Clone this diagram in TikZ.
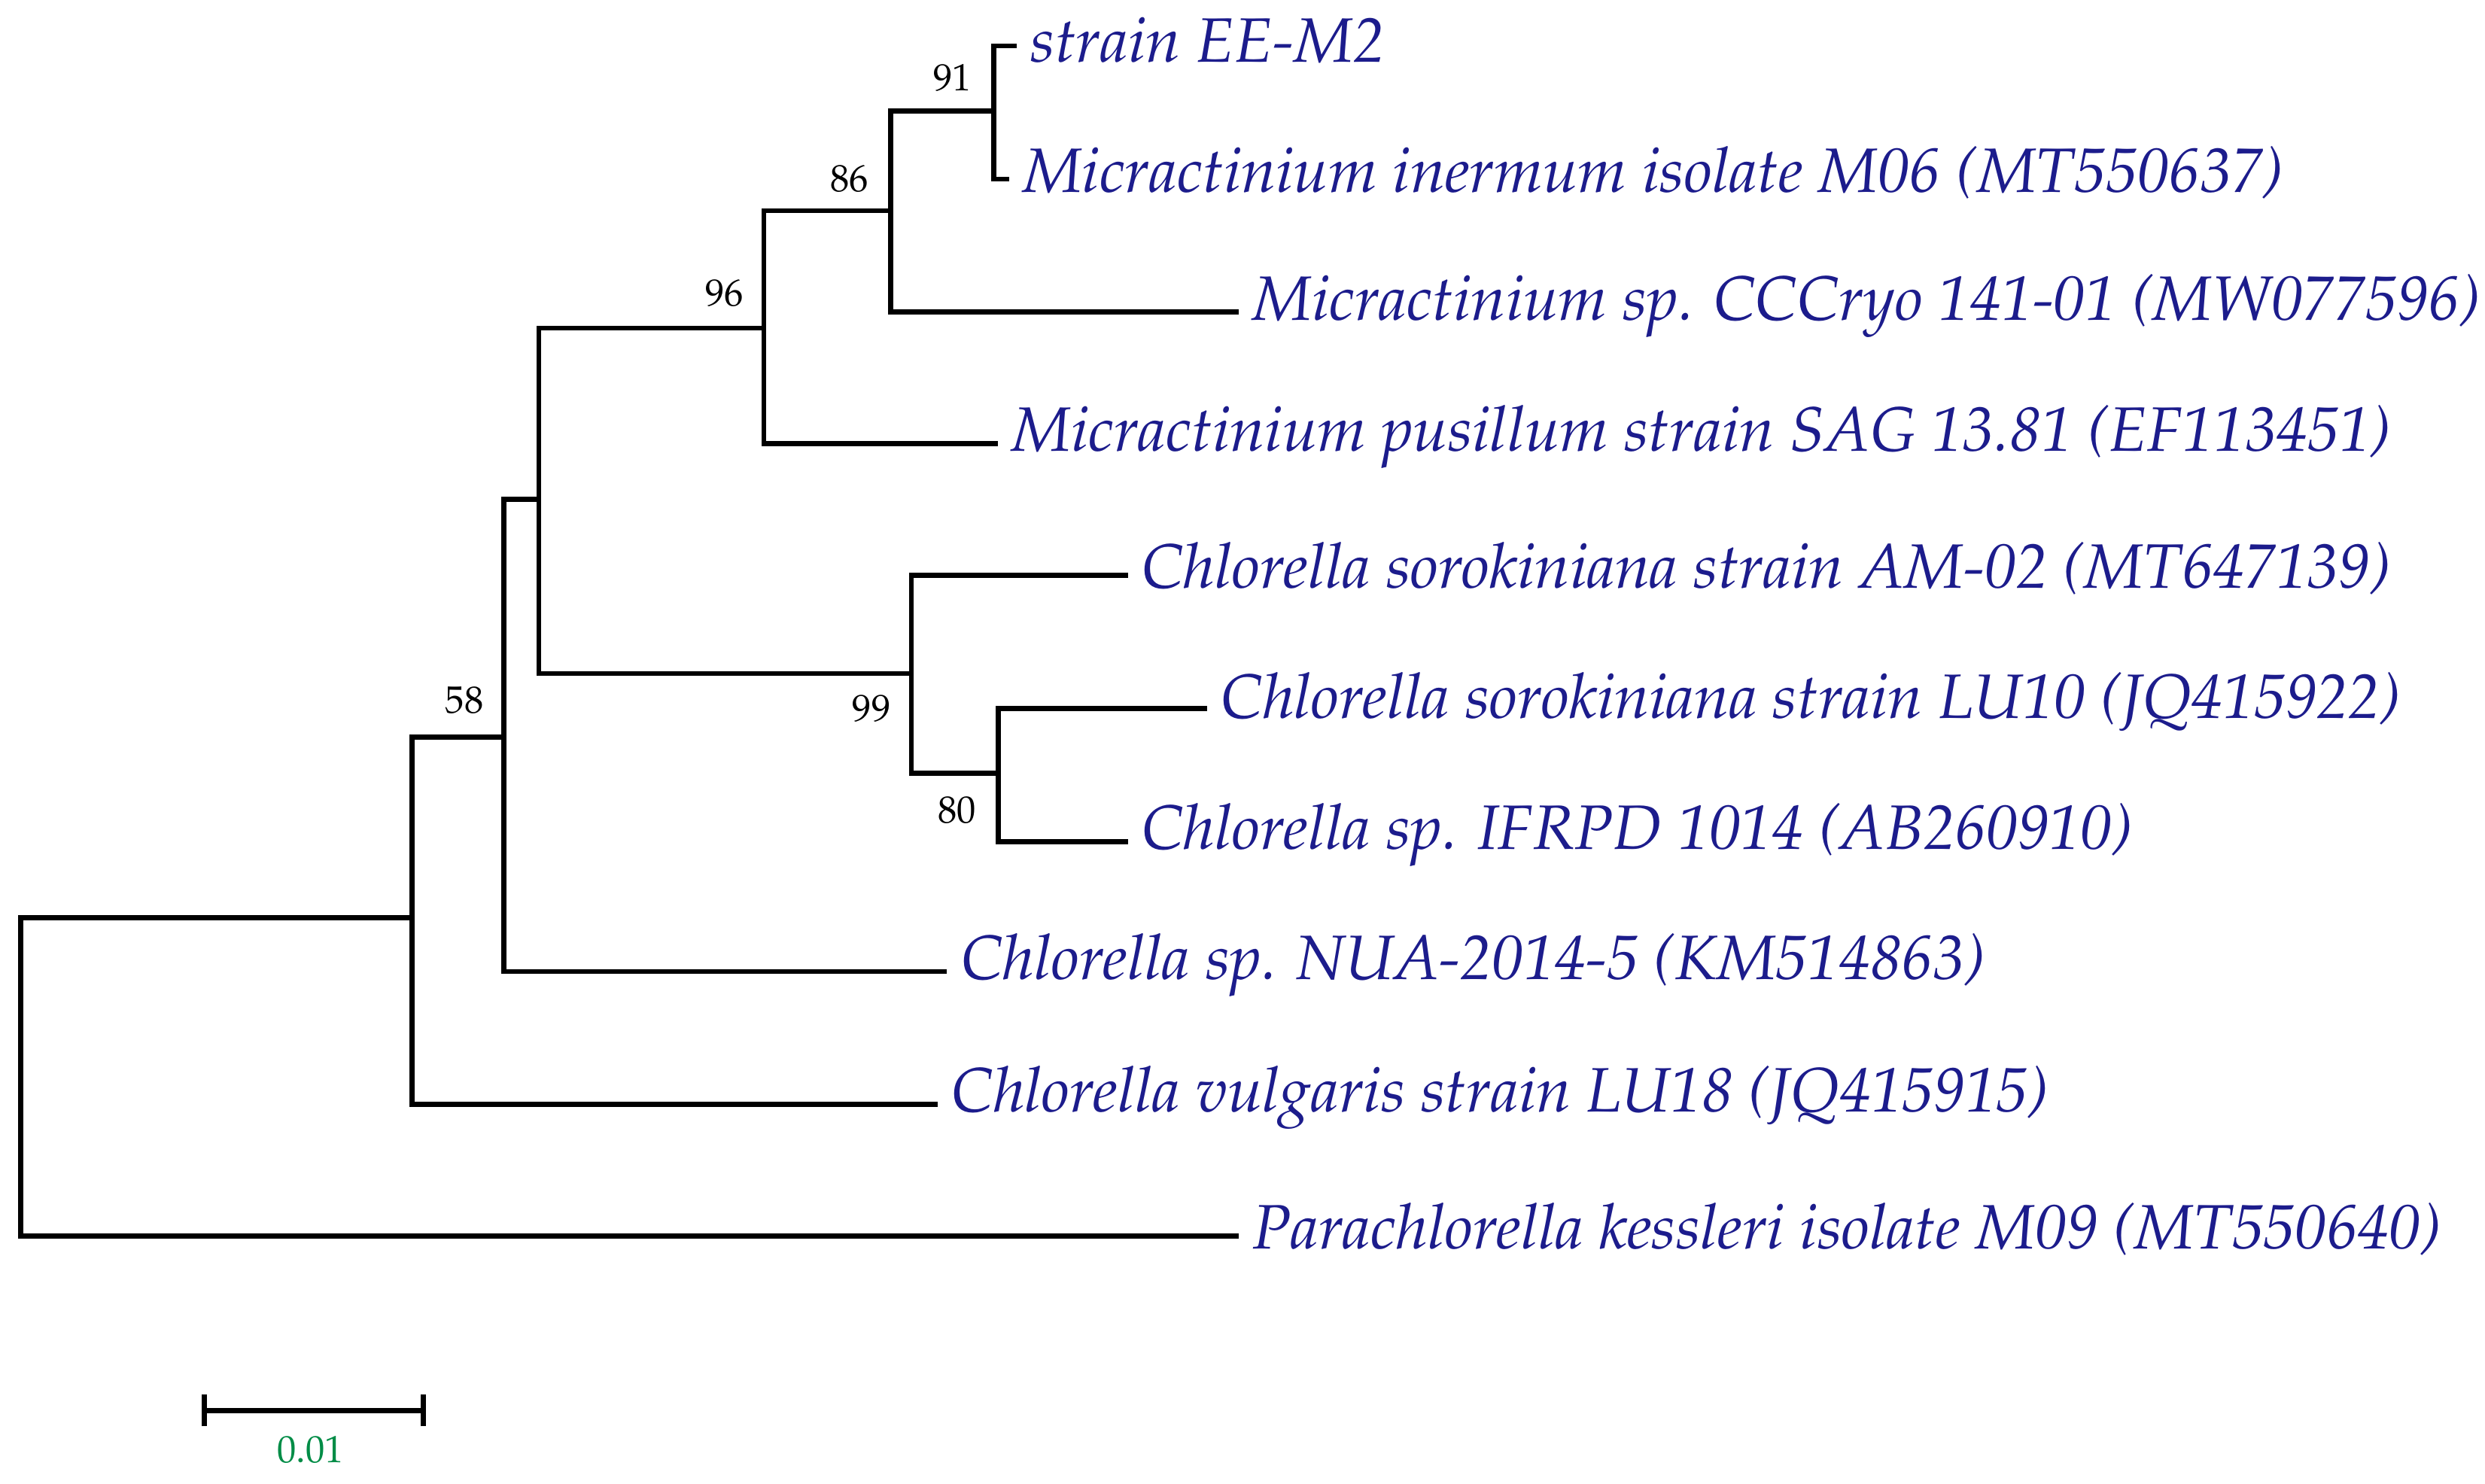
\documentclass[tikz,border=0pt]{standalone}
\usepackage[T1]{fontenc}
\usepackage{mathpazo}
\definecolor{taxblue}{RGB}{28,28,140}
\definecolor{scalegreen}{RGB}{0,140,70}
\begin{document}
\begin{tikzpicture}[x=0.5pt,y=-0.5pt,
  branch/.style={line width=1.6pt,line cap=rect},
  leaf/.style={anchor=west,inner sep=0pt,xshift=5pt,yshift=2pt,text=taxblue,font=\fontsize{19.8}{21}\selectfont\itshape},
  boot/.style={inner sep=0pt,font=\fontsize{12}{13}\selectfont},
  scalelab/.style={inner sep=0pt,text=scalegreen,font=\fontsize{12}{13}\selectfont}]
\useasboundingbox (0,0) rectangle (1568,936);
% internal nodes
\coordinate (n0) at (13,680);
\coordinate (n58) at (260,579);
\coordinate (nA) at (318,465);
\coordinate (nB) at (340,315);
\coordinate (n96) at (482,207);
\coordinate (n86) at (562,133);
\coordinate (n91) at (627,70);
\coordinate (n99) at (575,425);
\coordinate (n80) at (630,488);
% tips
\coordinate (tEE) at (640,29);
\coordinate (tM06) at (635,113);
\coordinate (tCC) at (780,197);
\coordinate (tPus) at (628,280);
\coordinate (tAM) at (710,363);
\coordinate (tLU) at (760,447);
\coordinate (tIF) at (710,531);
\coordinate (tNUA) at (596,613);
\coordinate (tVul) at (590,697);
\coordinate (tPara) at (780,780);
% branches
\draw[branch] (n0) |- (n58);
\draw[branch] (n0) |- (tPara);
\draw[branch] (n58) |- (nA);
\draw[branch] (n58) |- (tVul);
\draw[branch] (nA) |- (nB);
\draw[branch] (nA) |- (tNUA);
\draw[branch] (nB) |- (n96);
\draw[branch] (nB) |- (n99);
\draw[branch] (n96) |- (n86);
\draw[branch] (n96) |- (tPus);
\draw[branch] (n86) |- (n91);
\draw[branch] (n86) |- (tCC);
\draw[branch] (n91) |- (tEE);
\draw[branch] (n91) |- (tM06);
\draw[branch] (n99) |- (tAM);
\draw[branch] (n99) |- (n80);
\draw[branch] (n80) |- (tLU);
\draw[branch] (n80) |- (tIF);
% labels
\node[leaf] (lEE) at (tEE) {strain EE-M2};
\node[leaf] (lM06) at (tM06) {Micractinium inermum isolate M06 (MT550637)};
\node[leaf] (lCC) at (tCC) {Micractinium sp. CCCryo 141-01 (MW077596)};
\node[leaf] (lPus) at (tPus) {Micractinium pusillum strain SAG 13.81 (EF113451)};
\node[leaf] (lAM) at (tAM) {Chlorella sorokiniana strain AM-02 (MT647139)};
\node[leaf] (lLU) at (tLU) {Chlorella sorokiniana strain LU10 (JQ415922)};
\node[leaf] (lIF) at (tIF) {Chlorella sp. IFRPD 1014 (AB260910)};
\node[leaf] (lNUA) at (tNUA) {Chlorella sp. NUA-2014-5 (KM514863)};
\node[leaf] (lVul) at (tVul) {Chlorella vulgaris strain LU18 (JQ415915)};
\node[leaf] (lPara) at (tPara) {Parachlorella kessleri isolate M09 (MT550640)};
% bootstrap values
\node[boot] (b91) at (601,49) {91};
\node[boot] (b86) at (536,113) {86};
\node[boot] (b96) at (457,185) {96};
\node[boot] (b58) at (293,442) {58};
\node[boot] (b99) at (550,447) {99};
\node[boot] (b80) at (604,511) {80};
% scale bar
\coordinate (sbL) at (129,890);
\coordinate (sbR) at (267,890);
\draw[branch,line cap=butt] (sbL) -- (sbR);
\draw[branch,line cap=butt] ([yshift=-5pt]sbL) -- ([yshift=5pt]sbL);
\draw[branch,line cap=butt] ([yshift=-5pt]sbR) -- ([yshift=5pt]sbR);
\node[scalelab] (sblab) at (196,915) {0.01};
\end{tikzpicture}
\end{document}
